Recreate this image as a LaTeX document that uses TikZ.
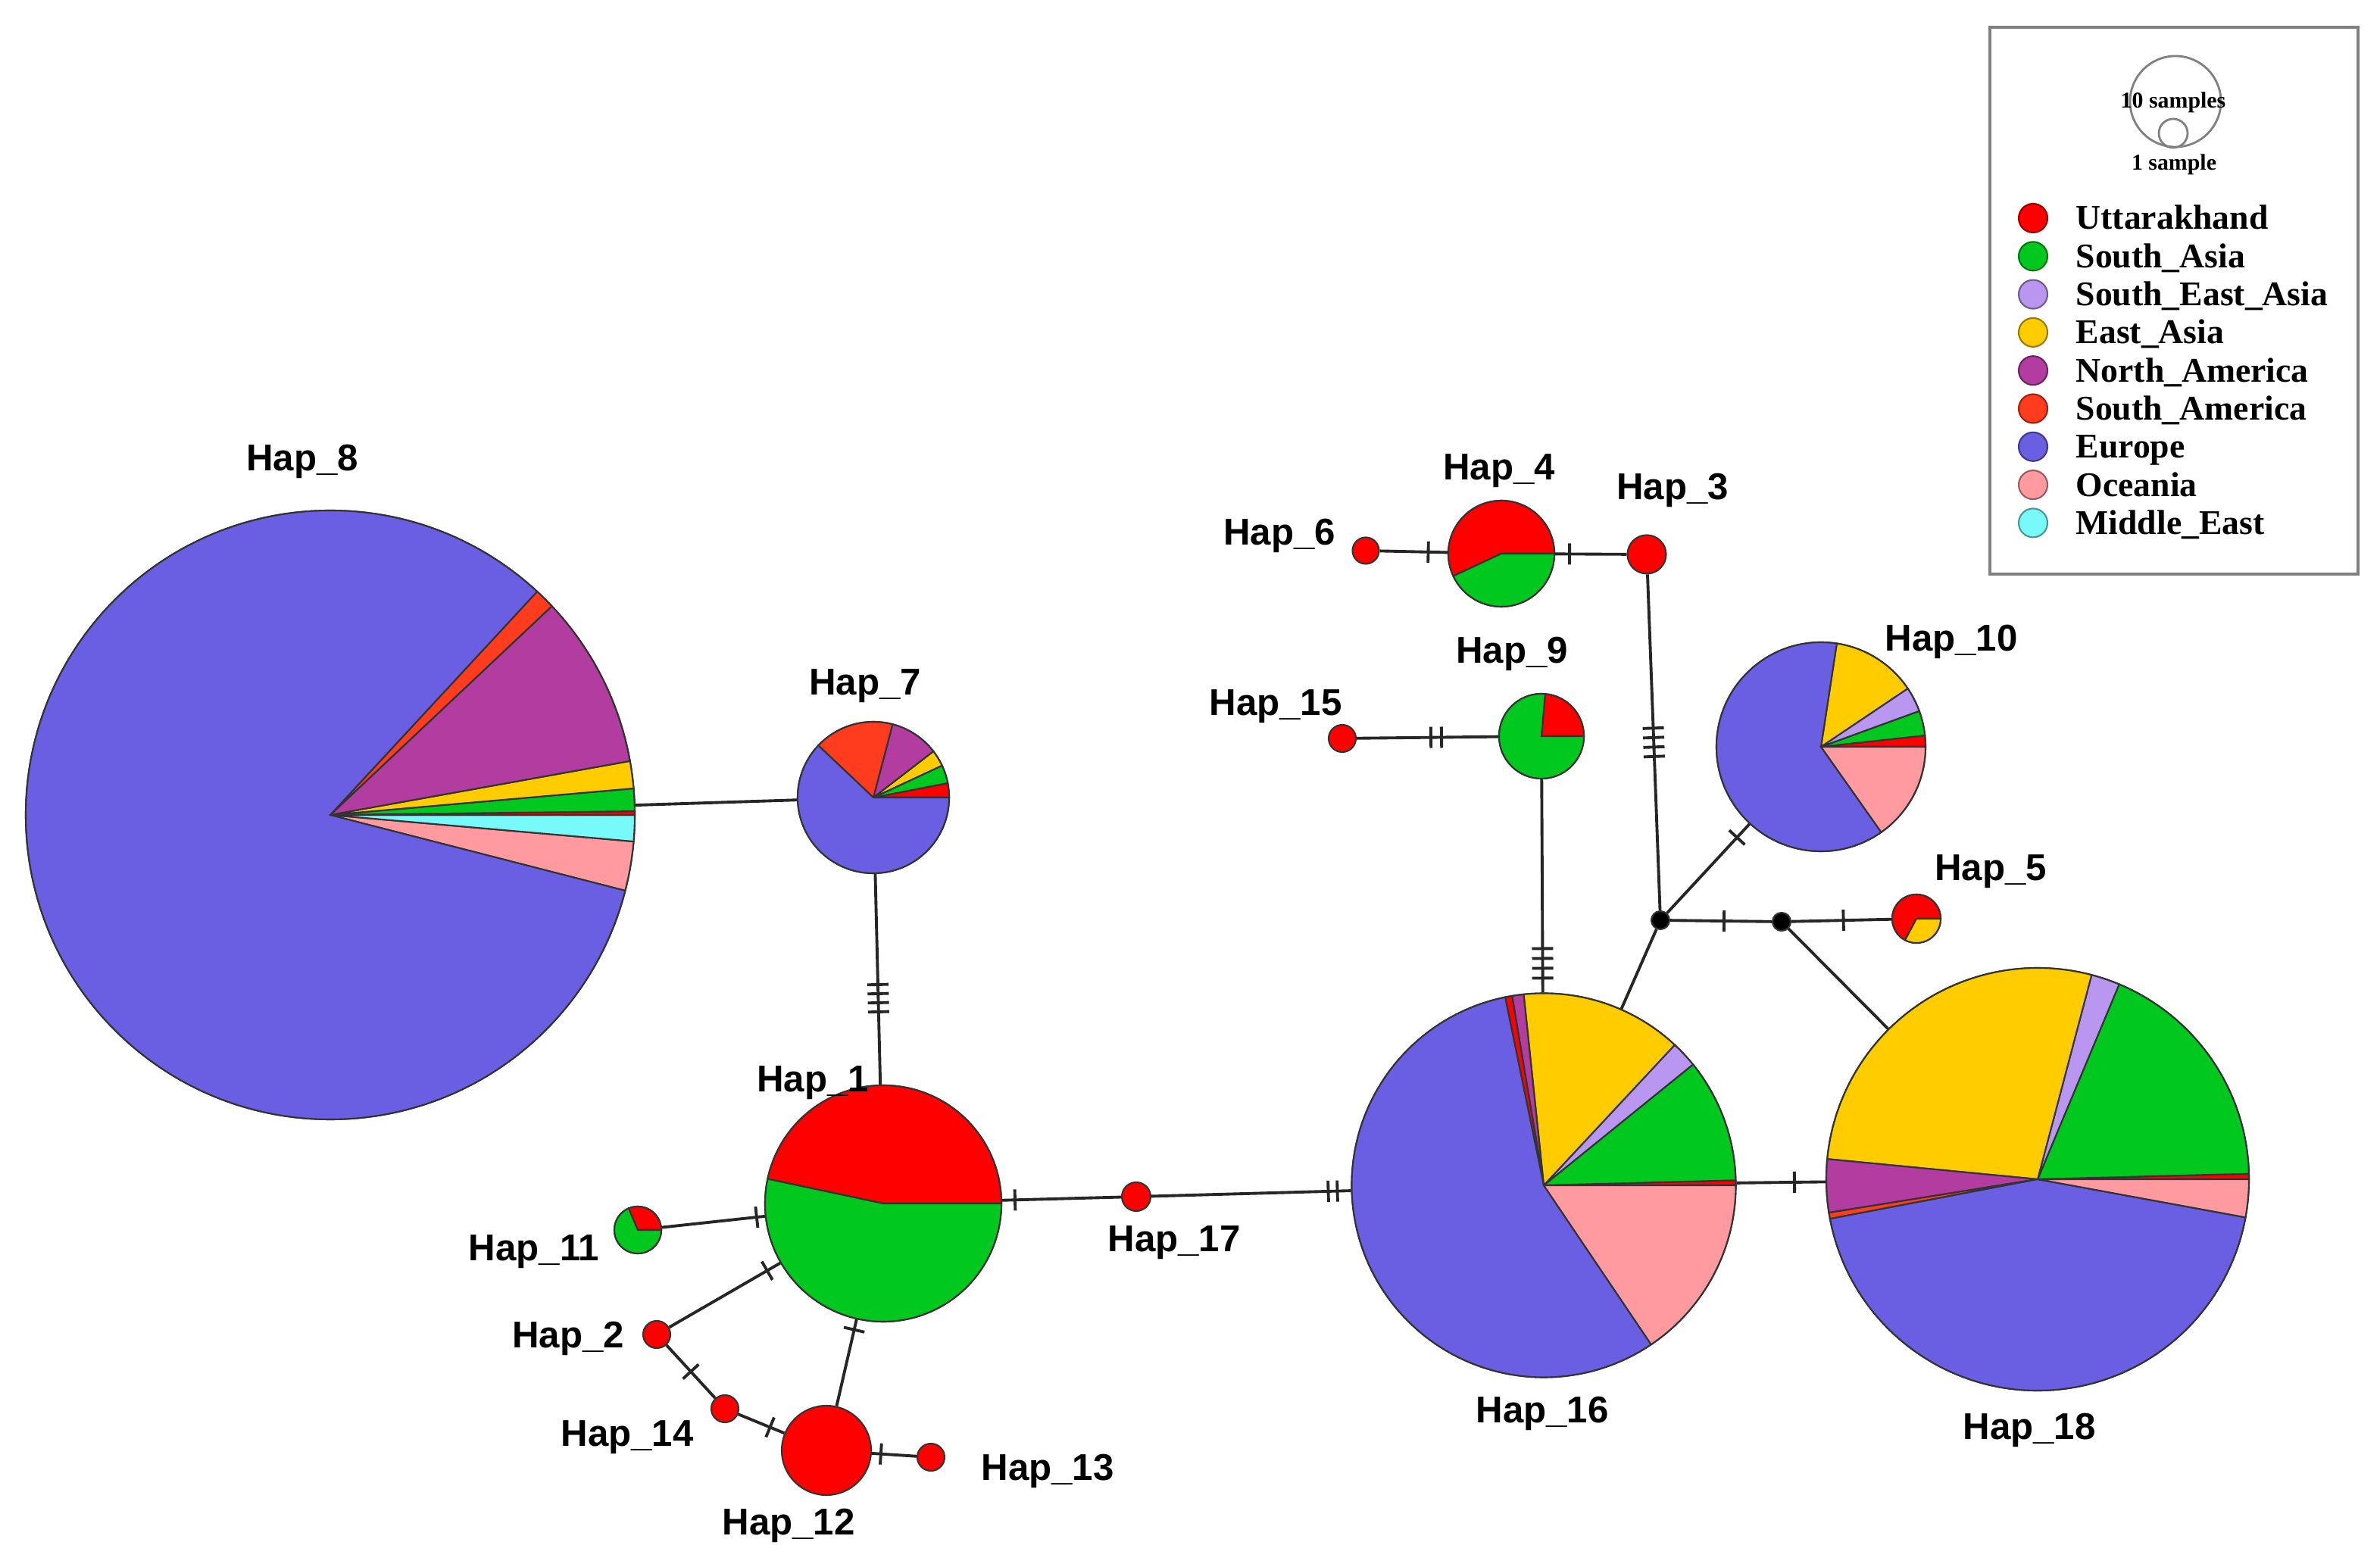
\documentclass[tikz,border=0pt]{standalone}
\usepackage{fontspec}
\setmainfont{Liberation Sans}
\newfontfamily\legfont{Liberation Serif}
\usetikzlibrary{decorations.markings}
\definecolor{utt}{RGB}{255,0,0}
\definecolor{sas}{RGB}{0,200,30}
\definecolor{sea}{RGB}{185,150,240}
\definecolor{eas}{RGB}{255,204,0}
\definecolor{nam}{RGB}{178,60,160}
\definecolor{sam}{RGB}{255,60,30}
\definecolor{eur}{RGB}{106,94,226}
\definecolor{oce}{RGB}{255,155,160}
\definecolor{mid}{RGB}{120,250,250}
\newcommand{\hpie}[3]{\foreach \a/\b/\c in {#3}{\filldraw[slice, fill=\c] (#1.center) -- ++(\a:#2) arc[start angle=\a, end angle=\b, radius=#2] -- cycle;}}
\begin{document}
\begin{tikzpicture}[
  hap/.style={circle, inner sep=0pt, minimum size=#1, draw=black!80, line width=0.6pt},
  slice/.style={draw=black!80, line width=0.6pt},
  link/.style={line width=1.1pt, black!85},
  mut/.style={postaction={decorate, decoration={markings, mark=at position #1 with {\draw[line width=1.1pt, black!85] (0,-0.14) -- (0,0.14);}}}},
  lab/.style={font=\bfseries\fontsize{14}{14}\selectfont},
  key/.style={circle, inner sep=0pt, minimum size=0.38cm, draw=#1!60!black, fill=#1, line width=0.6pt},
  keytext/.style={font=\legfont\bfseries\fontsize{13}{13}\selectfont, inner sep=0pt},
  keysmall/.style={font=\legfont\bfseries\fontsize{8.5}{8.5}\selectfont, inner sep=0pt}]
\useasboundingbox (0,0) rectangle (31.42,-20.65);
\node[hap=8.04cm, fill=eur] (h8) at (4.36,-10.76) {};
\node[hap=2.00cm, fill=eur] (h7) at (11.53,-10.53) {};
\node[hap=3.12cm, fill=sas] (h1) at (11.66,-15.89) {};
\node[hap=0.62cm, fill=sas] (h11) at (8.42,-16.24) {};
\node[hap=0.36cm, fill=utt] (h2) at (8.67,-17.62) {};
\node[hap=0.36cm, fill=utt] (h14) at (9.57,-18.60) {};
\node[hap=1.18cm, fill=utt] (h12) at (10.91,-19.15) {};
\node[hap=0.36cm, fill=utt] (h13) at (12.29,-19.24) {};
\node[hap=0.38cm, fill=utt] (h17) at (15.00,-15.80) {};
\node[hap=5.07cm, fill=eur] (h16) at (20.38,-15.65) {};
\node[hap=5.58cm, fill=eur] (h18) at (26.90,-15.57) {};
\node[hap=1.12cm, fill=sas] (h9) at (20.35,-9.72) {};
\node[hap=0.36cm, fill=utt] (h15) at (17.72,-9.75) {};
\node[hap=1.40cm, fill=utt] (h4) at (19.82,-7.31) {};
\node[hap=0.35cm, fill=utt] (h6) at (18.03,-7.27) {};
\node[hap=0.51cm, fill=utt] (h3) at (21.74,-7.32) {};
\node[hap=2.76cm, fill=eur] (h10) at (24.04,-9.86) {};
\node[hap=0.64cm, fill=utt] (h5) at (25.30,-12.13) {};
\node[hap=0.24cm, fill=black] (j1) at (21.92,-12.15) {};
\node[hap=0.24cm, fill=black] (j2) at (23.52,-12.17) {};
\draw[link] (h8) -- (h7);
\draw[link, mut=1.46cm, mut=1.58cm, mut=1.70cm, mut=1.82cm] (h7) -- (h1);
\draw[link, mut=0.17cm] (h1) -- (h17);
\draw[link, mut=-0.30cm, mut=-0.18cm] (h17) -- (h16);
\draw[link, mut=0.11cm] (h1) -- (h11);
\draw[link, mut=0.2cm] (h1) -- (h2);
\draw[link, mut=0.5] (h2) -- (h14);
\draw[link, mut=0.69] (h14) -- (h12);
\draw[link, mut=0.14cm] (h1) -- (h12);
\draw[link, mut=0.12cm] (h12) -- (h13);
\draw[link, mut=-0.41cm] (h16) -- (h18);
\draw[link] (h16) -- (j1);
\draw[link, mut=-0.58cm, mut=-0.45cm, mut=-0.32cm, mut=-0.19cm] (h9) -- (h16);
\draw[link, mut=0.98cm, mut=1.12cm] (h15) -- (h9);
\draw[link, mut=0.64cm] (h6) -- (h4);
\draw[link, mut=0.19cm] (h4) -- (h3);
\draw[link, mut=2.03cm, mut=2.155cm, mut=2.28cm, mut=2.405cm] (h3) -- (j1);
\draw[link, mut=-0.24cm] (j1) -- (h10);
\draw[link, mut=0.53] (j1) -- (j2);
\draw[link, mut=0.52] (j2) -- (h5);
\draw[link] (j2) -- (h18);
\hpie{h8}{4.02}{-14.4/-5/oce, -5/0/mid, 0/0.7/utt, 0.7/5/sas, 5/10.2/eas, 10.2/43.3/nam, 43.3/47.2/sam, 47.2/345.6/eur}
\hpie{h7}{1.00}{0/11/utt, 11/25/sas, 25/37.6/eas, 37.6/75.3/nam, 75.3/136.6/sam, 136.6/360/eur}
\hpie{h1}{1.56}{0/168/utt, 168/360/sas}
\hpie{h11}{0.31}{0/113/utt, 113/360/sas}
\hpie{h9}{0.56}{0/85/utt, 85/360/sas}
\hpie{h4}{0.70}{0/205/utt, 205/360/sas}
\hpie{h5}{0.32}{0/242/utt, 242/360/eas}
\hpie{h10}{1.38}{0/6.2/utt, 6.2/20/sas, 20/33.9/sea, 33.9/81.3/eas, 81.3/305.2/eur, 305.2/360/oce}
\hpie{h16}{2.535}{0/1.5/utt, 1.5/39/sas, 39/47/sea, 47/96/eas, 96/99.5/nam, 99.5/101.6/utt, 101.6/304/eur, 304/360/oce}
\hpie{h18}{2.79}{0/1.5/utt, 1.5/67.3/sas, 67.3/75.2/sea, 75.2/174.5/eas, 174.5/189.1/nam, 189.1/190.8/sam, 190.8/349.6/eur, 349.6/360/oce}
\node[lab] (l8) at (3.99,-6.09) {Hap\_8};
\node[lab] (l7) at (11.42,-9.06) {Hap\_7};
\node[lab] (l1) at (10.73,-14.30) {Hap\_1};
\node[lab] (l11) at (7.05,-16.53) {Hap\_11};
\node[lab] (l2) at (7.50,-17.67) {Hap\_2};
\node[lab] (l14) at (8.28,-18.98) {Hap\_14};
\node[lab] (l12) at (10.41,-20.14) {Hap\_12};
\node[lab] (l13) at (13.83,-19.42) {Hap\_13};
\node[lab] (l17) at (15.50,-16.41) {Hap\_17};
\node[lab] (l16) at (20.36,-18.66) {Hap\_16};
\node[lab] (l18) at (26.79,-18.88) {Hap\_18};
\node[lab] (l9) at (19.96,-8.63) {Hap\_9};
\node[lab] (l15) at (16.84,-9.33) {Hap\_15};
\node[lab] (l4) at (19.79,-6.22) {Hap\_4};
\node[lab] (l6) at (16.89,-7.07) {Hap\_6};
\node[lab] (l3) at (22.08,-6.47) {Hap\_3};
\node[lab] (l10) at (25.76,-8.47) {Hap\_10};
\node[lab] (l5) at (26.28,-11.51) {Hap\_5};
\draw[gray, line width=0.9pt] (26.27,-0.36) rectangle (31.13,-7.58);
\node[circle, inner sep=0pt, minimum size=1.20cm, draw=gray, line width=0.8pt] (big) at (28.72,-1.34) {};
\node[circle, inner sep=0pt, minimum size=0.38cm, draw=gray, line width=0.8pt] (small) at (28.69,-1.76) {};
\node[keysmall] (s10) at (28.69,-1.35) {10 samples};
\node[keysmall] (s1) at (28.70,-2.17) {1 sample};
\foreach \c/\t [count=\i from 0] in {utt/Uttarakhand, sas/South\_Asia, sea/South\_East\_Asia, eas/East\_Asia, nam/North\_America, sam/South\_America, eur/Europe, oce/Oceania, mid/Middle\_East}{
  \node[key=\c] (k\i) at (26.84,-2.88-0.503*\i) {};
  \node[keytext, anchor=base west] (t\i) at (27.40,-3.03-0.503*\i) {\t};
}
\end{tikzpicture}
\end{document}
